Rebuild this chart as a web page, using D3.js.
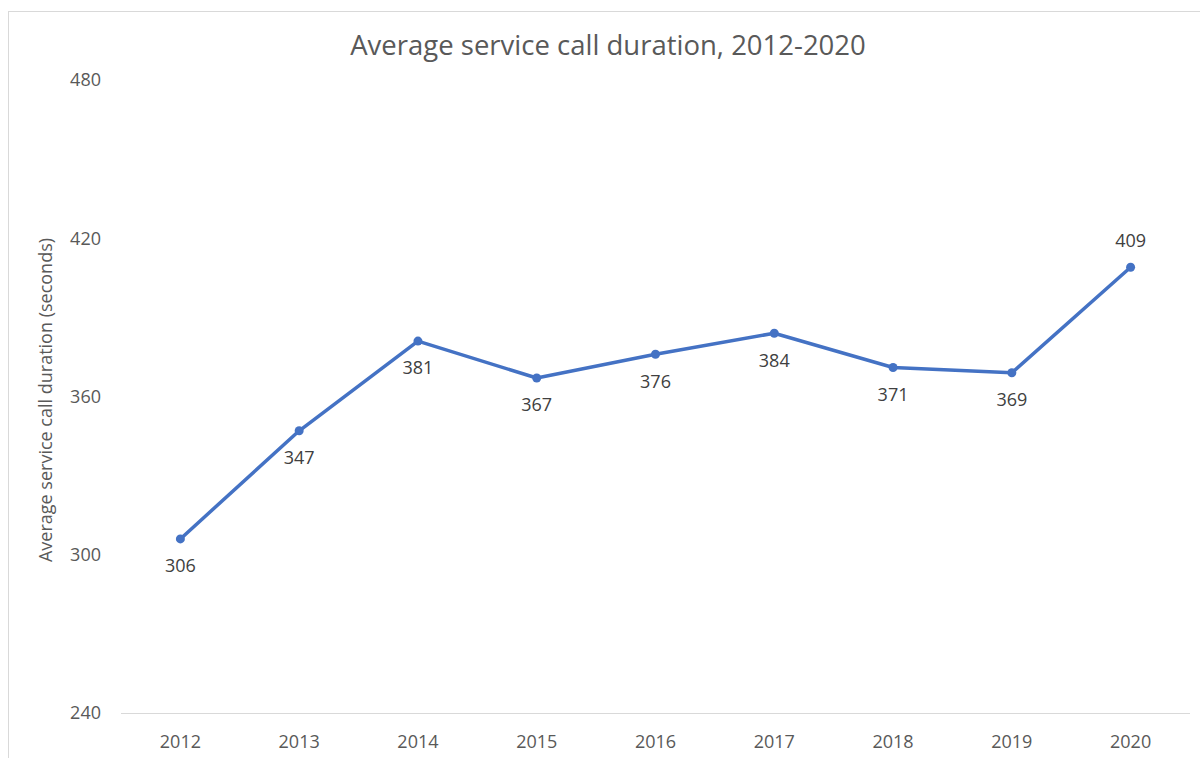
<!DOCTYPE html>
<html>
<head>
<meta charset="utf-8">
<script src="https://cdn.jsdelivr.net/npm/d3@7"></script>
<style>
  body { margin: 0; background: #fff; }
  text { font-family: "Open Sans", "Liberation Sans", sans-serif; }
</style>
</head>
<body>
<script>
// data
const years = ["2012", "2013", "2014", "2015", "2016", "2017", "2018", "2019", "2020"];
const durations = [306, 347, 381, 367, 376, 384, 371, 369, 409];
const yTicks = [240, 300, 360, 420, 480];

const W = 1200, H = 758;
const margin = {top: 80, right: 10, bottom: 45, left: 121};

const svg = d3.select("body").append("svg")
    .attr("width", W)
    .attr("height", H);

// chart border
svg.append("rect")
    .attr("x", 8.5).attr("y", 11.5)
    .attr("width", W + 10).attr("height", H)
    .attr("fill", "none")
    .attr("stroke", "#d9d9d9");

const xScale = d3.scaleBand()
    .domain(years)
    .range([margin.left, 1190]);

const yScale = d3.scaleLinear()
    .domain([240, 480])
    .range([713, 80]);

// x axis line
svg.append("line")
    .attr("x1", margin.left).attr("x2", 1190)
    .attr("y1", yScale(240) + 0.5).attr("y2", yScale(240) + 0.5)
    .attr("stroke", "#d9d9d9");

// y tick labels
svg.selectAll(".ytick")
    .data(yTicks)
    .enter()
    .append("text")
    .attr("class", "ytick")
    .attr("x", 101)
    .attr("y", d => yScale(d))
    .attr("dy", "0.35em")
    .attr("text-anchor", "end")
    .attr("font-size", "18px")
    .attr("fill", "#595959")
    .text(d => d);

// x tick labels
svg.selectAll(".xtick")
    .data(years)
    .enter()
    .append("text")
    .attr("class", "xtick")
    .attr("x", d => xScale(d) + xScale.bandwidth() / 2)
    .attr("y", 742)
    .attr("dy", "0.35em")
    .attr("text-anchor", "middle")
    .attr("font-size", "18px")
    .attr("fill", "#595959")
    .text(d => d);

// title
svg.append("text")
    .attr("x", 608)
    .attr("y", 45)
    .attr("dy", "0.35em")
    .attr("text-anchor", "middle")
    .attr("font-size", "27.5px")
    .attr("fill", "#595959")
    .text("Average service call duration, 2012-2020");

// y axis title
svg.append("text")
    .attr("transform", "translate(46," + 400 + ")rotate(-90)")
    .attr("dy", "0.35em")
    .attr("text-anchor", "middle")
    .attr("font-size", "18px")
    .attr("fill", "#595959")
    .text("Average service call duration (seconds)");

const pts = years.map((y, i) => ({year: y, value: durations[i]}));
const cx = d => xScale(d.year) + xScale.bandwidth() / 2;

const line = d3.line()
    .x(cx)
    .y(d => yScale(d.value));

svg.append("path")
    .datum(pts)
    .attr("d", line)
    .attr("fill", "none")
    .attr("stroke", "#4472c4")
    .attr("stroke-width", 3.5)
    .attr("stroke-linejoin", "round");

svg.selectAll(".dot")
    .data(pts)
    .enter()
    .append("circle")
    .attr("class", "dot")
    .attr("cx", cx)
    .attr("cy", d => yScale(d.value))
    .attr("r", 4.5)
    .attr("fill", "#4472c4");

// data labels: below, except the last one above
svg.selectAll(".lbl")
    .data(pts)
    .enter()
    .append("text")
    .attr("class", "lbl")
    .attr("x", cx)
    .attr("y", (d, i) => yScale(d.value) + (i === pts.length - 1 ? -27 : 27))
    .attr("dy", "0.35em")
    .attr("text-anchor", "middle")
    .attr("font-size", "18px")
    .attr("fill", "#404040")
    .text(d => d.value);
</script>
</body>
</html>
